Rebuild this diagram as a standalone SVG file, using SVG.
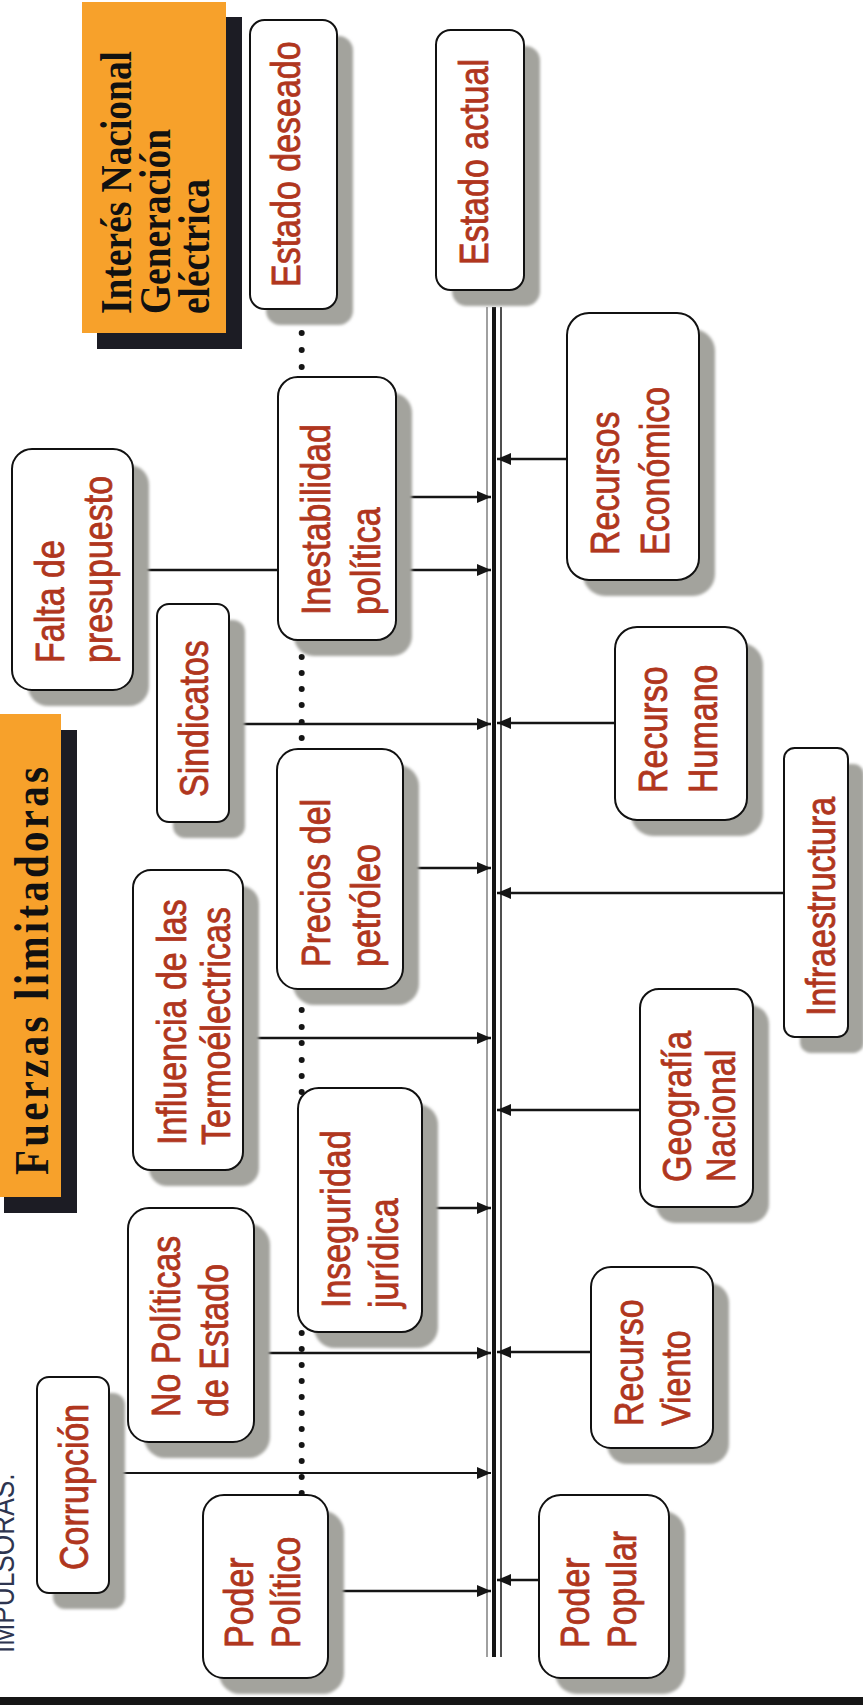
<svg xmlns="http://www.w3.org/2000/svg" width="863" height="1705" viewBox="0 0 863 1705">
<style>
.t{font-family:"Liberation Sans",Arial,sans-serif;font-size:34px;fill:#B0361E;stroke:#B0361E;stroke-width:0.7}
.h{font-family:"Liberation Serif","Times New Roman",serif;font-weight:bold;fill:#111}
.box{fill:#fff;stroke:#111;stroke-width:2}
.sh{fill:#A3A39D;filter:url(#blur)}
.c line{stroke:#151515;stroke-width:2.6}
.dot{fill:#151515}
</style>
<defs>
<filter id="blur" x="-10%" y="-10%" width="120%" height="120%"><feGaussianBlur stdDeviation="1.6"/></filter>
<marker id="ah" markerUnits="userSpaceOnUse" markerWidth="14" markerHeight="12" refX="14" refY="6" orient="auto"><path d="M0,0 L14,6 L0,12 z" fill="#151515"/></marker>
</defs>
<rect width="863" height="1705" fill="#fff"/>

<g id="title-interes">
<rect x="97" y="17" width="145" height="332" fill="#1C1C24"/>
<rect x="82" y="2" width="144" height="331" fill="#F7A12B"/>
<text class="h" font-size="37.4" transform="translate(131,314) scale(1.18,1) rotate(-90)" textLength="263" lengthAdjust="spacingAndGlyphs">Interés Nacional</text>
<text class="h" font-size="37.4" transform="translate(170,314) scale(1.18,1) rotate(-90)" textLength="185" lengthAdjust="spacingAndGlyphs">Generación</text>
<text class="h" font-size="37.4" transform="translate(209,314) scale(1.18,1) rotate(-90)" textLength="135" lengthAdjust="spacingAndGlyphs">eléctrica</text>
</g>

<g id="title-fuerzas">
<rect x="4" y="730" width="73" height="483" fill="#1C1C24"/>
<rect x="-12" y="714" width="73" height="483" fill="#F7A12B"/>
<text class="h" font-size="41" transform="translate(48,1175) scale(1.18,1) rotate(-90)" textLength="408" lengthAdjust="spacing">Fuerzas limitadoras</text>
</g>

<g id="impulsoras">
<text font-family="Liberation Sans,Arial,sans-serif" font-size="26.3" fill="#2E3550" transform="translate(14,1653) scale(1.18,1) rotate(-90)">IMPULSORAS.</text>
</g>

<g id="connectors" class="c">
<line x1="487" y1="307" x2="487" y2="1657" style="stroke:#808080;stroke-width:1.5"/>
<line x1="494" y1="307" x2="494" y2="1657" style="stroke-width:4"/>
<line x1="501" y1="307" x2="501" y2="1657" style="stroke-width:1.5"/>
<line x1="133" y1="570" x2="491" y2="570" marker-end="url(#ah)"/>
<line x1="396" y1="497" x2="491" y2="497" marker-end="url(#ah)"/>
<line x1="229" y1="724" x2="491" y2="724" marker-end="url(#ah)"/>
<line x1="403" y1="868" x2="491" y2="868" marker-end="url(#ah)"/>
<line x1="243" y1="1038" x2="491" y2="1038" marker-end="url(#ah)"/>
<line x1="422" y1="1208" x2="491" y2="1208" marker-end="url(#ah)"/>
<line x1="254" y1="1353" x2="491" y2="1353" marker-end="url(#ah)"/>
<line x1="109" y1="1473" x2="491" y2="1473" marker-end="url(#ah)" style="stroke-width:1.8"/>
<line x1="328" y1="1591" x2="491" y2="1591" marker-end="url(#ah)"/>
<line x1="567" y1="459" x2="497" y2="459" marker-end="url(#ah)"/>
<line x1="615" y1="723" x2="497" y2="723" marker-end="url(#ah)"/>
<line x1="784" y1="893" x2="497" y2="893" marker-end="url(#ah)"/>
<line x1="640" y1="1110" x2="497" y2="1110" marker-end="url(#ah)"/>
<line x1="591" y1="1352" x2="497" y2="1352" marker-end="url(#ah)"/>
<line x1="539" y1="1580" x2="497" y2="1580" marker-end="url(#ah)"/>
<g id="dots">
<circle class="dot" cx="301.7" cy="333" r="3"/><circle class="dot" cx="301.7" cy="350" r="3"/><circle class="dot" cx="301.7" cy="367" r="3"/>
<circle class="dot" cx="301.7" cy="657" r="3"/><circle class="dot" cx="301.7" cy="673" r="3"/><circle class="dot" cx="301.7" cy="689" r="3"/><circle class="dot" cx="301.7" cy="705" r="3"/><circle class="dot" cx="301.7" cy="722" r="3"/><circle class="dot" cx="301.7" cy="738" r="3"/>
<circle class="dot" cx="301.7" cy="1010" r="3"/><circle class="dot" cx="301.7" cy="1027" r="3"/><circle class="dot" cx="301.7" cy="1043" r="3"/><circle class="dot" cx="301.7" cy="1060" r="3"/><circle class="dot" cx="301.7" cy="1076" r="3"/><circle class="dot" cx="301.7" cy="1092" r="3"/>
<circle class="dot" cx="301.7" cy="1333" r="3"/><circle class="dot" cx="301.7" cy="1349" r="3"/><circle class="dot" cx="301.7" cy="1365" r="3"/><circle class="dot" cx="301.7" cy="1381" r="3"/><circle class="dot" cx="301.7" cy="1397" r="3"/><circle class="dot" cx="301.7" cy="1413" r="3"/><circle class="dot" cx="301.7" cy="1429" r="3"/><circle class="dot" cx="301.7" cy="1445" r="3"/><circle class="dot" cx="301.7" cy="1461" r="3"/><circle class="dot" cx="301.7" cy="1477" r="3"/><circle class="dot" cx="301.7" cy="1493" r="3"/>
</g>
</g>

<g id="n-estado-deseado">
<rect class="sh" x="266" y="36" width="87" height="289" rx="14.5"/>
<rect class="box" x="250" y="20" width="87" height="289" rx="14.5"/>
<text class="t" transform="translate(300,287) scale(1.18,1) rotate(-90)">Estado deseado</text>
</g>
<g id="n-estado-actual">
<rect class="sh" x="452" y="46" width="88" height="260" rx="14.7"/>
<rect class="box" x="436" y="30" width="88" height="260" rx="14.7"/>
<text class="t" transform="translate(488,265) scale(1.18,1) rotate(-90)">Estado actual</text>
</g>
<g id="n-falta">
<rect class="sh" x="28" y="465" width="121" height="241" rx="20"/>
<rect class="box" x="12" y="449" width="121" height="241" rx="20"/>
<text class="t" transform="translate(64,663) scale(1.18,1) rotate(-90)">Falta de</text>
<text class="t" transform="translate(112,663) scale(1.18,1) rotate(-90)">presupuesto</text>
</g>
<g id="n-inestabilidad">
<rect class="sh" x="294" y="393" width="118" height="263" rx="19.7"/>
<rect class="box" x="278" y="377" width="118" height="263" rx="19.7"/>
<text class="t" transform="translate(330,615) scale(1.18,1) rotate(-90)">Inestabilidad</text>
<text class="t" transform="translate(380,615) scale(1.18,1) rotate(-90)">política</text>
</g>
<g id="n-recursos-economico">
<rect class="sh" x="583" y="329" width="132" height="267" rx="22"/>
<rect class="box" x="567" y="313" width="132" height="267" rx="22"/>
<text class="t" transform="translate(619,555) scale(1.18,1) rotate(-90)">Recursos</text>
<text class="t" transform="translate(669,555) scale(1.18,1) rotate(-90)">Económico</text>
</g>
<g id="n-sindicatos">
<rect class="sh" x="173" y="620" width="72" height="218" rx="12"/>
<rect class="box" x="157" y="604" width="72" height="218" rx="12"/>
<text class="t" transform="translate(208,797) scale(1.18,1) rotate(-90)">Sindicatos</text>
</g>
<g id="n-recurso-humano">
<rect class="sh" x="631" y="643" width="132" height="193" rx="22"/>
<rect class="box" x="615" y="627" width="132" height="193" rx="22"/>
<text class="t" transform="translate(667,793) scale(1.18,1) rotate(-90)">Recurso</text>
<text class="t" transform="translate(717,793) scale(1.18,1) rotate(-90)">Humano</text>
</g>
<g id="n-precios">
<rect class="sh" x="293" y="765" width="126" height="240" rx="21"/>
<rect class="box" x="277" y="749" width="126" height="240" rx="21"/>
<text class="t" transform="translate(330,967) scale(1.18,1) rotate(-90)">Precios del</text>
<text class="t" transform="translate(380,967) scale(1.18,1) rotate(-90)">petróleo</text>
</g>
<g id="n-infraestructura">
<rect class="sh" x="800" y="764" width="64" height="289" rx="10.7"/>
<rect class="box" x="784" y="748" width="64" height="289" rx="10.7"/>
<text class="t" transform="translate(835,1016) scale(1.18,1) rotate(-90)">Infraestructura</text>
</g>
<g id="n-influencia">
<rect class="sh" x="149" y="886" width="110" height="300" rx="18"/>
<rect class="box" x="133" y="870" width="110" height="300" rx="18"/>
<text class="t" transform="translate(186,1145) scale(1.18,1) rotate(-90)">Influencia de las</text>
<text class="t" transform="translate(230,1145) scale(1.18,1) rotate(-90)">Termoélectricas</text>
</g>
<g id="n-geografia">
<rect class="sh" x="656" y="1005" width="113" height="218" rx="19"/>
<rect class="box" x="640" y="989" width="113" height="218" rx="19"/>
<text class="t" transform="translate(691,1182) scale(1.18,1) rotate(-90)">Geografía</text>
<text class="t" transform="translate(735,1182) scale(1.18,1) rotate(-90)">Nacional</text>
</g>
<g id="n-inseguridad">
<rect class="sh" x="314" y="1104" width="124" height="244" rx="20.7"/>
<rect class="box" x="298" y="1088" width="124" height="244" rx="20.7"/>
<text class="t" transform="translate(350,1308) scale(1.18,1) rotate(-90)">Inseguridad</text>
<text class="t" transform="translate(398,1308) scale(1.18,1) rotate(-90)">jurídica</text>
</g>
<g id="n-no-politicas">
<rect class="sh" x="144" y="1224" width="126" height="234" rx="21"/>
<rect class="box" x="128" y="1208" width="126" height="234" rx="21"/>
<text class="t" transform="translate(180,1417) scale(1.18,1) rotate(-90)">No Políticas</text>
<text class="t" transform="translate(228,1417) scale(1.18,1) rotate(-90)">de Estado</text>
</g>
<g id="n-recurso-viento">
<rect class="sh" x="607" y="1283" width="122" height="181" rx="20"/>
<rect class="box" x="591" y="1267" width="122" height="181" rx="20"/>
<text class="t" transform="translate(643,1426) scale(1.18,1) rotate(-90)">Recurso</text>
<text class="t" transform="translate(690,1426) scale(1.18,1) rotate(-90)">Viento</text>
</g>
<g id="n-corrupcion">
<rect class="sh" x="53" y="1393" width="72" height="216" rx="12"/>
<rect class="box" x="37" y="1377" width="72" height="216" rx="12"/>
<text class="t" transform="translate(88,1570) scale(1.18,1) rotate(-90)">Corrupción</text>
</g>
<g id="n-poder-politico">
<rect class="sh" x="219" y="1511" width="125" height="183" rx="21"/>
<rect class="box" x="203" y="1495" width="125" height="183" rx="21"/>
<text class="t" transform="translate(253,1648) scale(1.18,1) rotate(-90)">Poder</text>
<text class="t" transform="translate(300,1648) scale(1.18,1) rotate(-90)">Político</text>
</g>
<g id="n-poder-popular">
<rect class="sh" x="555" y="1511" width="130" height="183" rx="21.7"/>
<rect class="box" x="539" y="1495" width="130" height="183" rx="21.7"/>
<text class="t" transform="translate(589,1648) scale(1.18,1) rotate(-90)">Poder</text>
<text class="t" transform="translate(636,1648) scale(1.18,1) rotate(-90)">Popular</text>
</g>

<rect id="bottom-bar" x="0" y="1697" width="863" height="8" fill="#151515"/>
</svg>
